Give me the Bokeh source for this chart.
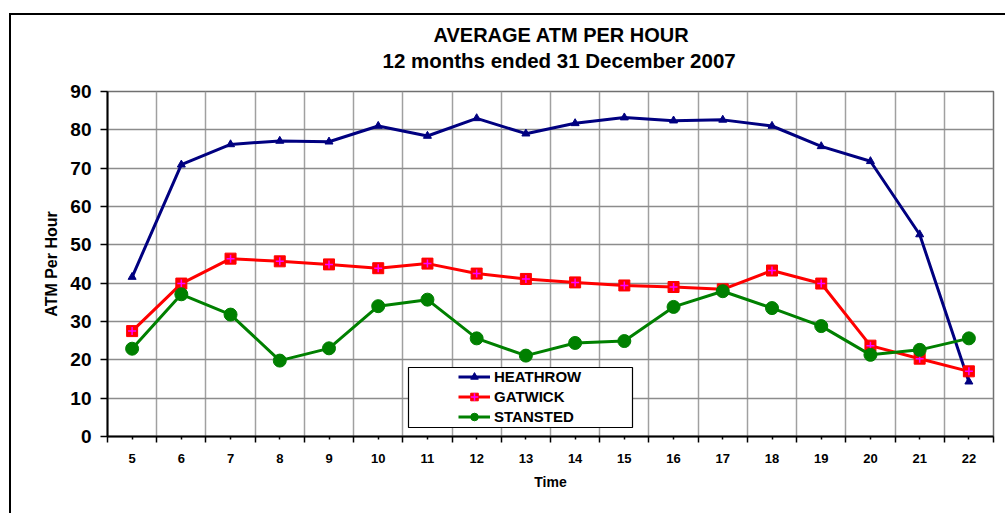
from bokeh.plotting import figure
from bokeh.models import (FixedTicker, Legend, LegendItem, BoxAnnotation, Range1d, Title)
from bokeh.embed import file_html
from bokeh.resources import INLINE

hours = list(range(5, 23))
heathrow = [41.6, 70.9, 76.2, 77.1, 76.9, 81.0, 78.4, 83.0, 79.0, 81.7, 83.2, 82.4, 82.6, 81.0, 75.7, 71.8, 52.7, 14.3]
gatwick = [27.5, 39.9, 46.4, 45.7, 44.9, 43.9, 45.1, 42.5, 41.1, 40.2, 39.4, 39.0, 38.4, 43.3, 39.9, 23.7, 20.3, 17.0]
stansted = [22.9, 37.1, 31.8, 19.8, 23.0, 34.0, 35.7, 25.6, 21.1, 24.4, 24.9, 33.8, 37.9, 33.5, 28.8, 21.3, 22.6, 25.6]
y_ticks = [0, 10, 20, 30, 40, 50, 60, 70, 80, 90]
series_names = ["HEATHROW", "GATWICK", "STANSTED"]
title_lines = ["AVERAGE ATM PER HOUR", "12 months ended 31 December 2007"]

boundaries = [h - 0.5 for h in hours] + [hours[-1] + 0.5]

FONT = "Liberation Sans"

p = figure(width=996, height=500, output_backend="svg", toolbar_location=None,
           x_range=Range1d(hours[0] - 0.5, hours[-1] + 0.5), y_range=Range1d(0, 90),
           min_border_left=96, min_border_right=14, min_border_top=76, min_border_bottom=79)
p.styles = {"border-top": "2px solid #000", "border-left": "2px solid #000",
            "margin-top": "13px", "margin-left": "9px"}

p.background_fill_color = "white"
p.border_fill_color = "white"
p.outline_line_color = "#707070"
p.outline_line_width = 1.5

# grid
p.xgrid.ticker = FixedTicker(ticks=boundaries)
p.xgrid.grid_line_color = "#a0a0a0"
p.xgrid.grid_line_width = 1.5
p.ygrid.ticker = FixedTicker(ticks=y_ticks)
p.ygrid.grid_line_color = "#8c8c8c"
p.ygrid.grid_line_width = 1.5

# axes
p.xaxis.ticker = FixedTicker(ticks=hours, minor_ticks=boundaries)
p.xaxis.major_tick_out = 3
p.xaxis.major_tick_in = 0
p.xaxis.minor_tick_out = 6
p.xaxis.minor_tick_in = 0
p.xaxis.major_label_standoff = 11
p.xaxis.axis_label = "Time"
p.xaxis.axis_label_standoff = 8

p.yaxis.ticker = FixedTicker(ticks=y_ticks)
p.yaxis.major_tick_out = 7
p.yaxis.major_tick_in = 0
p.yaxis.minor_tick_out = 0
p.yaxis.minor_tick_in = 0
p.yaxis.major_label_standoff = 9
p.yaxis.axis_label = "ATM Per Hour"
p.yaxis.axis_label_standoff = 7

for ax in (p.xaxis[0], p.yaxis[0]):
    ax.axis_line_color = "black"
    ax.axis_line_width = 2
    ax.major_tick_line_color = "black"
    ax.major_tick_line_width = 1.5
    ax.minor_tick_line_color = "black"
    ax.minor_tick_line_width = 1.5
    ax.major_label_text_font = FONT
    ax.major_label_text_font_style = "bold"
    ax.major_label_text_color = "black"
    ax.axis_label_text_font = FONT
    ax.axis_label_text_font_style = "bold"
    ax.axis_label_text_color = "black"

p.xaxis.axis_label_text_font_size = "14px"
p.yaxis.axis_label_text_font_size = "16px"
p.xaxis.major_label_text_font_size = "13px"
p.yaxis.major_label_text_font_size = "19px"

# titles (added bottom line first: it sits nearest the frame)
p.add_layout(Title(text=title_lines[1], align="left", offset=275, text_font=FONT,
                   text_font_style="bold", text_font_size="20.5px", text_color="black",
                   standoff=0, padding=dict(left=0, right=0, top=0, bottom=20)), "above")
p.add_layout(Title(text=title_lines[0], align="left", offset=326, text_font=FONT,
                   text_font_style="bold", text_font_size="20px", text_color="black",
                   standoff=0, padding=dict(left=0, right=0, top=0, bottom=1)), "above")

# series
h_line = p.line(hours, heathrow, line_color="#000080", line_width=3)
h_mark = p.scatter(hours, heathrow, marker="triangle", size=8, fill_color="#000080", line_color="#000080")

g_line = p.line(hours, gatwick, line_color="#ff0000", line_width=3)
g_sq = p.scatter(hours, gatwick, marker="square", size=11, fill_color="#ff0000", line_color="#ff0000")
g_cr = p.scatter(hours, gatwick, marker="cross", size=8, line_color="#ff00ff", line_width=1.5)

s_line = p.line(hours, stansted, line_color="#008000", line_width=3)
s_mark = p.scatter(hours, stansted, marker="circle", size=13, fill_color="#008000", line_color="#008000")

# legend box
p.add_layout(BoxAnnotation(left=301, right=525, bottom=9, top=69,
                           left_units="screen", right_units="screen",
                           bottom_units="screen", top_units="screen",
                           fill_color="white", fill_alpha=1.0,
                           line_color="black", line_width=1.2, line_alpha=1.0))

legend = Legend(items=[
    LegendItem(label=series_names[0], renderers=[h_line, h_mark]),
    LegendItem(label=series_names[1], renderers=[g_line, g_sq, g_cr]),
    LegendItem(label=series_names[2], renderers=[s_line, s_mark]),
], location=(351, 10), padding=0, margin=0, spacing=1,
    glyph_width=32, glyph_height=19, label_height=19, label_standoff=4,
    label_text_font=FONT, label_text_font_style="bold", label_text_font_size="15px",
    label_text_color="black", border_line_color=None, background_fill_alpha=0)
p.add_layout(legend)

open("out.html", "w").write(file_html(p, INLINE))
